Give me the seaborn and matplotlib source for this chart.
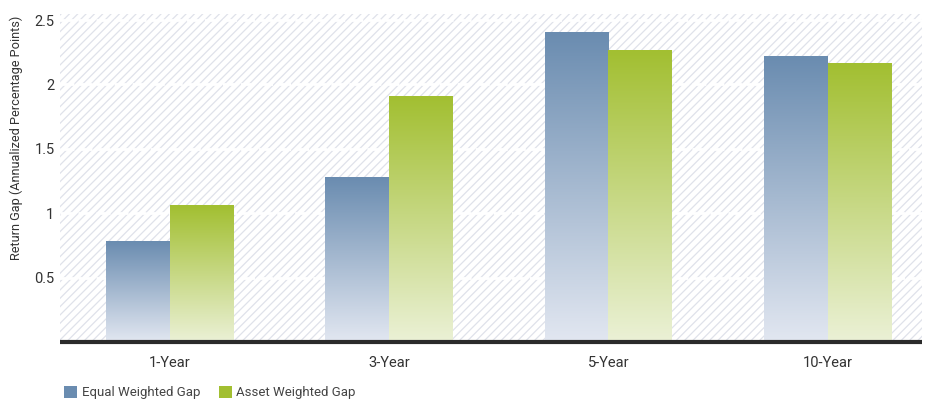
import numpy as np
import pandas as pd
import matplotlib
matplotlib.use("Agg")
import matplotlib.pyplot as plt
import seaborn as sns
from matplotlib.colors import LinearSegmentedColormap
from matplotlib.patches import Patch

# Return gap by time horizon
periods = ["1-Year", "3-Year", "5-Year", "10-Year"]
equal_weighted = [0.78, 1.28, 2.40, 2.22]
asset_weighted = [1.06, 1.91, 2.26, 2.16]
series_names = ["Equal Weighted Gap", "Asset Weighted Gap"]
y_ticks = [0.5, 1, 1.5, 2, 2.5]
y_tick_labels = ["0.5", "1", "1.5", "2", "2.5"]

sns.set_theme(style="white")
plt.rcParams["font.family"] = ["Roboto", "DejaVu Sans"]
plt.rcParams["hatch.linewidth"] = 0.9
plt.rcParams["hatch.color"] = "#dfe2ea"

blue_top, blue_bottom = "#6a8cb0", "#e2e7f1"
green_top, green_bottom = "#a2bf31", "#ebf1d6"

df = pd.DataFrame({
    "period": periods * 2,
    "value": equal_weighted + asset_weighted,
    "series": [series_names[0]] * 4 + [series_names[1]] * 4,
})

fig = plt.figure(figsize=(9.25, 4), dpi=100)
ax = fig.add_axes([60 / 925, 58 / 400, (922 - 60) / 925, 328 / 400])

# hatched plot background
ax.patch.set_facecolor("white")
ax.patch.set_hatch("////")
ax.patch.set_edgecolor("#dfe2ea")
ax.patch.set_linewidth(0)

sns.barplot(data=df, x="period", y="value", hue="series", order=periods,
            hue_order=series_names, palette=[blue_top, green_top],
            width=0.58, saturation=1, ax=ax, legend=False, zorder=3)

# vertical gradient fill for each bar
grad = np.linspace(0, 1, 256).reshape(-1, 1)
cmaps = [LinearSegmentedColormap.from_list("b", [blue_bottom, blue_top]),
         LinearSegmentedColormap.from_list("g", [green_bottom, green_top])]
for container, cmap in zip(ax.containers, cmaps):
    for bar in container:
        x0 = bar.get_x()
        w = bar.get_width()
        h = bar.get_height()
        bar.set_facecolor("none")
        bar.set_edgecolor("none")
        ax.imshow(grad, extent=[x0, x0 + w, 0, h], origin="lower",
                  aspect="auto", cmap=cmap, zorder=3, interpolation="bicubic")

ax.set_xlim(-0.5, 3.43)
ax.set_ylim(0, 2.547)
ax.set_yticks(y_ticks)
ax.set_yticklabels(y_tick_labels)
ax.set_axisbelow(True)
ax.yaxis.grid(True, color="white", lw=2, ls=(0, (5, 1.5)), zorder=1)
ax.xaxis.grid(False)
for s in ax.spines.values():
    s.set_visible(False)
ax.tick_params(axis="both", length=0, labelsize=10.5, colors="#333333")
ax.tick_params(axis="y", pad=4)
ax.tick_params(axis="x", pad=10)
ax.set_xlabel("")
ax.set_ylabel("Return Gap (Annualized Percentage Points)", fontsize=9.2,
              color="#333333")
ax.yaxis.set_label_coords(-0.043, 0.622)
ax.axhline(0, color="#2b2b2b", lw=3, zorder=6, clip_on=False,
           solid_capstyle="butt")

handles = [Patch(facecolor=blue_top, edgecolor="none"),
           Patch(facecolor=green_top, edgecolor="none")]
fig.legend(handles, series_names, loc="lower left",
           bbox_to_anchor=(52 / 925, -0.028), ncol=2, frameon=False,
           handlelength=1.0, handleheight=1.0, handletextpad=0.35,
           columnspacing=1.4, fontsize=9.5, labelcolor="#444444")

fig.savefig("out.png", dpi=100)
